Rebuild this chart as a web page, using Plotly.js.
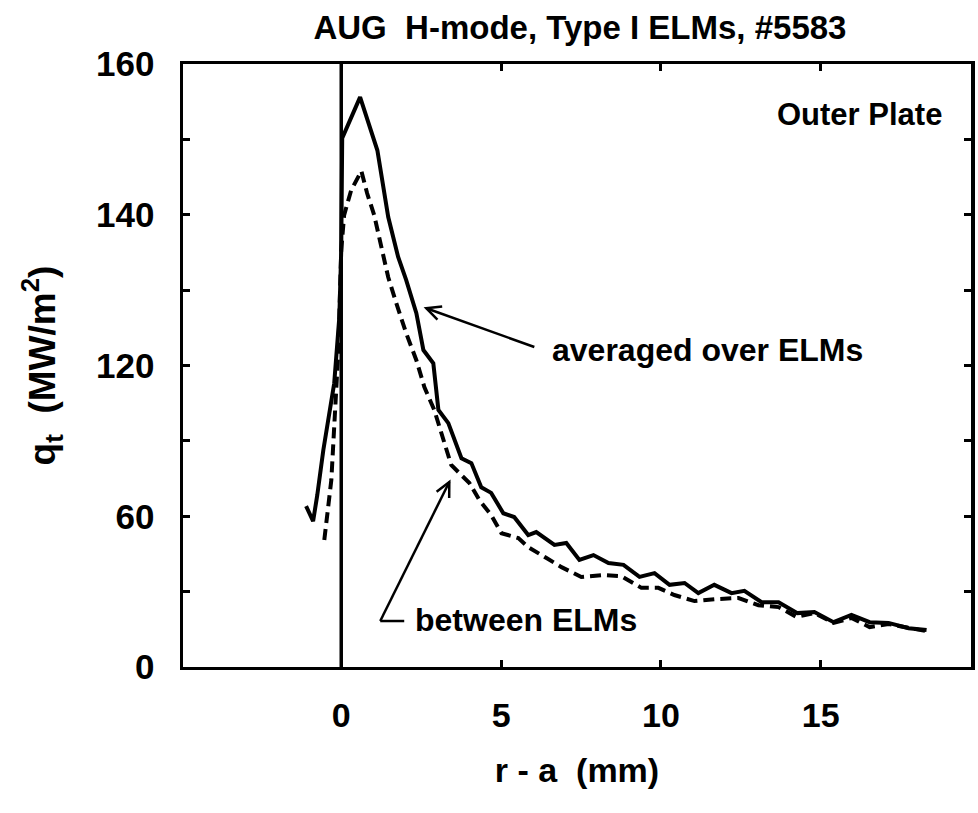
<!DOCTYPE html>
<html>
<head>
<meta charset="utf-8">
<script src="https://cdn.plot.ly/plotly-3.0.1.min.js"></script>
<style>html,body{margin:0;padding:0;background:#fff;}#chart{width:978px;height:813px;}</style>
</head>
<body>
<div id="chart"></div>
<script>
// r - a (mm) and q_t for the ELM-averaged profile (solid)
const avgX = [-1.10,-0.88,-0.75,-0.56,-0.22,-0.06,0.00,0.03,0.59,1.13,1.47,1.78,2.03,2.35,2.57,2.88,3.04,3.35,3.76,4.07,4.38,4.69,5.07,5.41,5.85,6.10,6.67,7.04,7.45,7.89,8.36,8.83,9.33,9.80,10.27,10.74,11.17,11.67,12.21,12.61,13.15,13.68,14.27,14.80,15.40,15.96,16.53,17.12,17.75,18.31];
const avgY = [42.7,38.7,45.6,57.6,75.3,92.8,110.6,140.3,151.2,137.1,119.4,108.8,102.7,93.9,84.1,80.6,68.2,64.7,55.4,54.1,47.7,46.2,40.8,39.8,35.0,35.8,32.4,32.9,28.4,29.7,27.6,27.1,23.9,24.9,21.8,22.3,19.6,21.8,19.6,20.2,17.2,17.2,14.3,14.6,11.9,13.8,11.9,11.7,10.3,9.8];
// between ELMs profile (dashed)
const betX = [-0.53,-0.31,-0.09,0.00,0.09,0.31,0.63,0.81,1.03,1.25,1.47,1.72,2.03,2.35,2.60,2.91,3.13,3.44,4.01,4.32,4.69,5.01,5.54,5.85,6.42,6.89,7.51,8.20,8.76,8.98,9.39,9.92,10.42,11.05,11.67,12.43,13.05,13.68,14.24,14.80,15.40,15.96,16.53,17.12,17.75,18.31];
const betY = [33.7,49.6,84.1,110.6,119.9,126.5,131.6,125.7,119.9,111.4,103.4,96.6,88.6,81.4,74.3,68.2,62.3,53.6,48.8,44.3,40.3,35.5,34.2,31.8,28.9,26.5,23.9,24.4,24.1,23.1,21.0,21.0,19.1,17.5,18.0,18.3,16.4,15.9,13.3,14.3,11.7,13.0,10.6,11.4,10.3,9.5];

const yTickVals = [0,40,80,120,160];
const yTickText = ['0','60','120','140','160'];
const xTickVals = [0,5,10,15];
const xTickText = ['0','5','10','15'];

const FONT = 'Liberation Sans, Arial, Helvetica, sans-serif';
const X_RANGE = [-4.95, 19.7];
const Y_RANGE = [0, 160];
const W = 978, H = 813;
const M = {l: 183, r: 7, t: 64, b: 146};

// pixel scale of the plot area, used only to shape open arrowheads
const sx = (W - M.l - M.r) / (X_RANGE[1] - X_RANGE[0]);
const sy = (H - M.t - M.b) / (Y_RANGE[1] - Y_RANGE[0]);

function arrowShapes(tail, head) {
  const dx = (head[0] - tail[0]) * sx, dy = (head[1] - tail[1]) * sy;
  const len = Math.hypot(dx, dy), ux = dx / len, uy = dy / len;
  const L = 16, ang = 26 * Math.PI / 180;
  const pts = [ang, -ang].map(a => {
    const bx = -ux * Math.cos(a) + uy * Math.sin(a);
    const by = -uy * Math.cos(a) - ux * Math.sin(a);
    return [head[0] + bx * L / sx, head[1] + by * L / sy];
  });
  const st = {color: '#000', width: 2.5};
  return [
    {type: 'line', xref: 'x', yref: 'y', x0: tail[0], y0: tail[1], x1: head[0], y1: head[1], line: st},
    {type: 'path', xref: 'x', yref: 'y', line: st,
     path: `M${pts[0][0]},${pts[0][1]} L${head[0]},${head[1]} L${pts[1][0]},${pts[1][1]}`}
  ];
}

const traces = [
  {x: avgX, y: avgY, mode: 'lines', name: 'averaged over ELMs',
   line: {color: '#000', width: 4}},
  {x: betX, y: betY, mode: 'lines', name: 'between ELMs',
   line: {color: '#000', width: 4, dash: '11px,6px'}}
];

const layout = {
  width: W, height: H,
  margin: M,
  paper_bgcolor: '#fff', plot_bgcolor: '#fff',
  showlegend: false,
  font: {family: FONT, color: '#000'},
  title: {text: '<b>AUG  H-mode, Type I ELMs, #5583</b>',
          font: {family: FONT, size: 33, color: '#000'},
          x: 0.593, xanchor: 'center', y: 0.966, yanchor: 'middle'},
  xaxis: {
    range: X_RANGE, showgrid: false, zeroline: false,
    showline: true, linecolor: '#000', linewidth: 3, mirror: 'ticks',
    ticks: 'inside', ticklen: 7, tickwidth: 3, tickcolor: '#000',
    tickvals: xTickVals, ticktext: xTickText,
    tickfont: {family: FONT, size: 34, color: '#000', weight: 'bold'},
    ticklabelstandoff: 16,
    title: {text: '<b>r - a  (mm)</b>', font: {family: FONT, size: 34, color: '#000'}, standoff: 26}
  },
  yaxis: {
    range: Y_RANGE, showgrid: false, zeroline: false,
    showline: true, linecolor: '#000', linewidth: 3.5, mirror: 'ticks',
    ticks: 'inside', ticklen: 7, tickwidth: 3, tickcolor: '#000',
    tickvals: yTickVals, ticktext: yTickText,
    minor: {dtick: 20, ticks: 'inside', ticklen: 7, tickwidth: 3, tickcolor: '#000', showgrid: false},
    tickfont: {family: FONT, size: 35, color: '#000', weight: 'bold'},
    ticklabelstandoff: 18,
    title: {text: '<b>q<sub>t</sub>  (MW/m<sup>2</sup>)</b>', font: {family: FONT, size: 37, color: '#000'}, standoff: 30}
  },
  shapes: [
    {type: 'line', xref: 'x', yref: 'paper', x0: 0, x1: 0, y0: 0, y1: 1,
     line: {color: '#000', width: 3.5}},
    {type: 'line', xref: 'x', yref: 'y', x0: 1.22, y0: 12.2, x1: 1.97, y1: 12.2,
     line: {color: '#000', width: 2.5}},
    ...arrowShapes([6.04, 84.9], [2.66, 95.2]),
    ...arrowShapes([1.22, 12.2], [3.38, 49.1])
  ],
  annotations: [
    {text: '<b>Outer Plate</b>', xref: 'x', yref: 'y', x: 18.87, y: 146.7,
     xanchor: 'right', yanchor: 'middle', showarrow: false,
     font: {family: FONT, size: 31, color: '#000'}},
    {text: '<b>averaged over ELMs</b>', xref: 'x', yref: 'y', x: 6.54, y: 84.1,
     xanchor: 'left', yanchor: 'middle', showarrow: false,
     font: {family: FONT, size: 32, color: '#000'}},
    {text: '<b>between ELMs</b>', xref: 'x', yref: 'y', x: 2.25, y: 12.5,
     xanchor: 'left', yanchor: 'middle', showarrow: false,
     font: {family: FONT, size: 32, color: '#000'}}
  ]
};

Plotly.newPlot('chart', traces, layout, {displayModeBar: false, staticPlot: true});
</script>
</body>
</html>
